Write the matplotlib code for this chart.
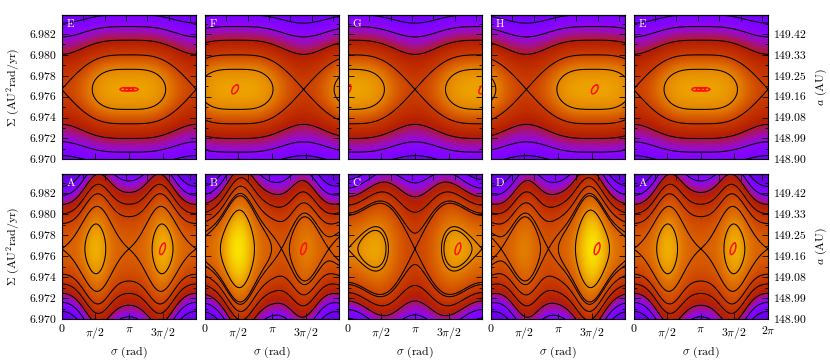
import numpy as np
import matplotlib
matplotlib.use('Agg')
import matplotlib.pyplot as plt

plt.rcParams['font.family'] = 'cmr10'
plt.rcParams['mathtext.fontset'] = 'cm'
plt.rcParams['axes.formatter.use_mathtext'] = True
plt.rcParams['axes.unicode_minus'] = False
plt.rcParams['contour.negative_linestyle'] = 'solid'

# ---------------- data ----------------
Sigma0 = 6.9767            # resonance centre (AU^2 rad/yr)
Sigma_unit = 0.001         # unit of the action offset u
ylim = (6.970, 6.98385)

top_labels = ['E', 'F', 'G', 'H', 'E']
bot_labels = ['A', 'B', 'C', 'D', 'A']

# top row: H' = -u^2 + c1*cos(x) - c2*cos(2x),  x = sigma - phi1
top_c1 = [5.45, 5.45, 5.45, 5.45, 5.45]
top_c2 = [1.3, 1.3, 1.3, 1.3, 1.3]
top_phi1 = [np.pi, 0.47 * np.pi, 0.0, 1.53 * np.pi, np.pi]
top_levels = [0.46, -18.0, -32.0, -47.0, -63.0]
top_cmap_H = [-62.0, -38.0, -26.0, -16.0, -8.0, 0.0, 4.2]
top_cmap_v = [0.17, 0.27, 0.38, 0.50, 0.60, 0.79, 0.86]

# bottom row: H' = -u^2 - (c2 + beta*u^2)*cos(2s) + c4*cos(4s) + c1*cos(s - phi1) - g*u^2*cos(s)
bot_c2 = [6.5, 6.5, 5.2, 6.5, 6.5]
bot_c4 = [1.2, 1.2, 0.0, 1.2, 1.2]
bot_c1 = [0.0, 6.5, 7.0, 6.5, 0.0]
bot_phi1 = [0.0, 0.45 * np.pi, 0.0, 1.55 * np.pi, 0.0]
bot_beta = [0.2, 0.2, 0.08, 0.2, 0.2]
bot_g = [0.28, 0.28, 0.28, 0.28, 0.28]
bot_levels = [3.2, -14.0, -22.0, -32.0, -44.0, -58.0]
bot_cmap_H = [-85.0, -60.0, -52.0, -43.0, -37.0, -31.0, -25.0, -10.0, 0.0, 9.0, 15.0]
bot_cmap_v = [0.14, 0.20, 0.25, 0.30, 0.38, 0.47, 0.53, 0.67, 0.77, 0.90, 0.97]

# red librating orbits (centre sigma, centre Sigma, semi-axes in px, tilt deg, copies)
top_orb_sigma = [np.pi, 1.42, 0.0, 4.86, np.pi]
top_orb_Sigma = [6.9767, 6.9767, 6.9767, 6.9767, 6.9767]
top_orb_a = [4.5, 5.0, 5.0, 5.0, 4.5]
top_orb_b = [1.7, 2.6, 2.6, 2.6, 1.7]
top_orb_tilt = [0.0, 60.0, 60.0, 60.0, 0.0]
top_orb_copies = [3, 1, 1, 1, 3]
bot_orb_sigma = [4.71, 4.62, 5.15, 4.97, 4.65]
bot_orb_Sigma = [6.9767, 6.9767, 6.9767, 6.9767, 6.9767]
bot_orb_a = [6.0, 6.0, 6.0, 6.0, 6.0]
bot_orb_b = [2.4, 2.4, 2.4, 2.4, 2.4]
bot_orb_tilt = [72.0, 72.0, 72.0, 72.0, 72.0]

xticks = [0, np.pi / 2, np.pi, 3 * np.pi / 2, 2 * np.pi]
xticklabels = ['0', r'$\pi/2$', r'$\pi$', r'$3\pi/2$', '']
xticklabels_last = ['0', r'$\pi/2$', r'$\pi$', r'$3\pi/2$', r'$2\pi$']
top_extra_ticks = [1, 2, 3, 4, 5, 6]
yticks = [6.970, 6.972, 6.974, 6.976, 6.978, 6.980, 6.982]
a_labels = ['148.90', '148.99', '149.08', '149.16', '149.25', '149.33', '149.42']

# ---------------- layout ----------------
W, H = 830, 363
fig = plt.figure(figsize=(W / 100, H / 100), dpi=100)
col_left = [61.7, 204.7, 347.7, 490.7, 633.5]
pw = 134.5
rows = [(14.7, 159.3), (174.0, 319.0)]

sig = np.linspace(0, 2 * np.pi, 500)
Sg = np.linspace(ylim[0], ylim[1], 320)
SS, YY = np.meshgrid(sig, Sg)
UU = (YY - Sigma0) / Sigma_unit


def field(row, i, s, u):
    if row == 0:
        x = s - top_phi1[i]
        return -u ** 2 + top_c1[i] * np.cos(x) - top_c2[i] * np.cos(2 * x)
    return (-u ** 2 - (bot_c2[i] + bot_beta[i] * u ** 2) * np.cos(2 * s)
            + bot_c4[i] * np.cos(4 * s) + bot_c1[i] * np.cos(s - bot_phi1[i])
            - bot_g[i] * u ** 2 * np.cos(s))


def saddle_levels(row, i):
    s = np.linspace(0, 2 * np.pi, 4000, endpoint=False)
    h = field(row, i, s, 0.0)
    mins = (h < np.roll(h, 1)) & (h < np.roll(h, -1))
    return list(h[mins])


fs = 8.5
for row in range(2):
    t, b = rows[row]
    for i in range(5):
        ax = fig.add_axes([col_left[i] / W, 1 - b / H, pw / W, (b - t) / H])
        Hf = field(row, i, SS, UU)
        cH, cv = (top_cmap_H, top_cmap_v) if row == 0 else (bot_cmap_H, bot_cmap_v)
        ax.imshow(np.interp(Hf, cH, cv), extent=[0, 2 * np.pi, ylim[0], ylim[1]],
                  origin='lower', aspect='auto', cmap='gnuplot', vmin=0, vmax=1,
                  interpolation='bilinear')
        lev = (top_levels if row == 0 else bot_levels) + saddle_levels(row, i)
        lev = sorted(set(np.round(lev, 6)))
        ax.contour(SS, YY, Hf, levels=lev, colors='black', linewidths=0.75,
                   linestyles='solid')

        # red orbit
        px_s = 2 * np.pi / pw
        px_S = (ylim[1] - ylim[0]) / (b - t)
        tt = np.linspace(0, 2 * np.pi, 200)
        if row == 0:
            cs, cS, a_, b_, th, nc = (top_orb_sigma[i], top_orb_Sigma[i], top_orb_a[i],
                                      top_orb_b[i], top_orb_tilt[i], top_orb_copies[i])
        else:
            cs, cS, a_, b_, th, nc = (bot_orb_sigma[i], bot_orb_Sigma[i], bot_orb_a[i],
                                      bot_orb_b[i], bot_orb_tilt[i], 1)
        th = np.deg2rad(th)
        for k in range(nc):
            off = (k - (nc - 1) / 2) * 4.4
            xp = a_ * np.cos(tt) * np.cos(th) - b_ * np.sin(tt) * np.sin(th) + off
            yp = a_ * np.cos(tt) * np.sin(th) + b_ * np.sin(tt) * np.cos(th)
            for wrap in (-2 * np.pi, 0, 2 * np.pi):
                ax.plot(cs + wrap + xp * px_s, cS + yp * px_S, color='#ff1010', lw=1.1)

        ax.set_xlim(0, 2 * np.pi)
        ax.set_ylim(*ylim)
        ax.set_xticks(xticks)
        ax.set_yticks(yticks)
        ax.set_yticks(np.arange(6.971, 6.9835, 0.002), minor=True)
        ax.tick_params(which='both', direction='in', top=False, right=True,
                       labelsize=fs, pad=4)
        ax.tick_params(which='major', length=4, width=0.6)
        ax.tick_params(which='minor', length=2, width=0.6)
        sec = ax.secondary_xaxis('top')
        sec.set_xticks(top_extra_ticks)
        sec.tick_params(direction='in', length=4, width=0.6, labeltop=False)
        for sp in list(ax.spines.values()) + list(sec.spines.values()):
            sp.set_linewidth(0.8)
        if row == 1:
            ax.set_xticklabels(xticklabels_last if i == 4 else xticklabels)
            ax.set_xlabel(r'$\sigma$ (rad)', fontsize=fs, labelpad=3)
        else:
            ax.set_xticklabels([])
        if i == 0:
            ax.set_yticklabels([f'{v:.3f}' for v in yticks])
            ax.set_ylabel(r'$\Sigma$ (AU$^2$rad/yr)', fontsize=fs, labelpad=5)
        else:
            ax.set_yticklabels([])
        if i == 4:
            ax.tick_params(labelright=True)
            ax.set_yticklabels(a_labels)
            ax.tick_params(labelleft=False)
            ax.yaxis.set_label_position('right')
            ax.set_ylabel(r'$a$ (AU)', fontsize=fs, labelpad=5)
        lab = (top_labels if row == 0 else bot_labels)[i]
        ax.text(0.035, 0.97, lab, transform=ax.transAxes, color='white',
                fontsize=8, ha='left', va='top')

fig.savefig('out.png', dpi=100)
